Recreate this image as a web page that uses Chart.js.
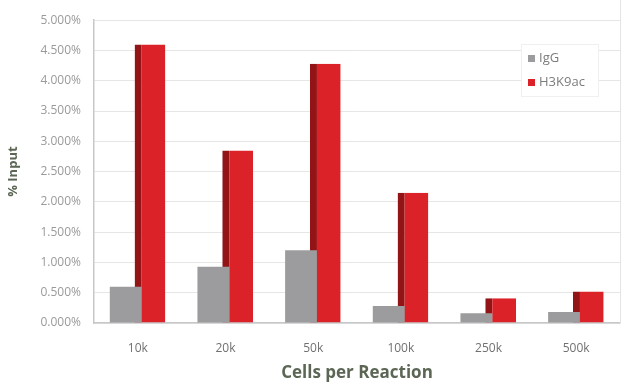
<!DOCTYPE html>
<html>
<head>
<meta charset="utf-8">
<script src="https://cdn.jsdelivr.net/npm/chart.js@4.4.1/dist/chart.umd.min.js"></script>
<style>
  html, body { margin: 0; padding: 0; background: #fff; }
  #wrap { width: 640px; height: 390px; }
</style>
</head>
<body>
<div id="wrap"><canvas id="inputChart"></canvas></div>
<script>
/**************************************************
 * DATA
 **************************************************/
const cellCounts = ["10k", "20k", "50k", "100k", "250k", "500k"];
const iggValues = [0.60, 0.93, 1.20, 0.28, 0.16, 0.18];
const h3k9acValues = [4.60, 2.85, 4.28, 2.15, 0.41, 0.52];
const yTicks = [0, 0.5, 1, 1.5, 2, 2.5, 3, 3.5, 4, 4.5, 5];

/**************************************************
 * LEGEND drawn inside the plot, top right
 **************************************************/
const insideLegend = {
  id: "insideLegend",
  afterDraw(chart) {
    const ctx = chart.ctx;
    const area = chart.chartArea;
    const x = 521, y = 44;
    ctx.save();
    // light frame line on the right side of the plot
    ctx.strokeStyle = "#e4e4e4";
    ctx.lineWidth = 1;
    ctx.beginPath();
    ctx.moveTo(area.right + 0.5, 0);
    ctx.lineTo(area.right + 0.5, area.bottom);
    ctx.stroke();

    ctx.fillStyle = "#ffffff";
    ctx.strokeStyle = "#f0f0f0";
    ctx.fillRect(x, y, 77, 52);
    ctx.strokeRect(x + 0.5, y + 0.5, 77, 52);
    ctx.font = "13px 'Open Sans'";
    ctx.textBaseline = "middle";
    chart.data.datasets.forEach((ds, i) => {
      const ly = y + 14 + i * 24;
      ctx.fillStyle = ds.backgroundColor;
      ctx.fillRect(x + 7, ly - 3, 7, 7);
      ctx.fillStyle = "#7c7c7c";
      ctx.fillText(ds.label, x + 18, ly);
    });
    ctx.restore();
  }
};

/**************************************************
 * CHART
 **************************************************/
new Chart(document.getElementById("inputChart"), {
  type: "bar",
  data: {
    labels: cellCounts,
    datasets: [
      {
        label: "IgG",
        data: iggValues,
        backgroundColor: "#9c9c9e",
        barPercentage: 1.31,
        categoryPercentage: 0.554
      },
      {
        label: "H3K9ac",
        data: h3k9acValues,
        backgroundColor: "#dc2229",
        borderColor: "#921416",
        borderWidth: { left: 7, top: 0, right: 0, bottom: 0 },
        borderSkipped: false,
        barPercentage: 1.265,
        categoryPercentage: 0.554
      }
    ]
  },
  options: {
    responsive: true,
    maintainAspectRatio: false,
    animation: false,
    layout: { padding: { top: 12, right: 20, bottom: 0, left: 0 } },
    plugins: {
      legend: { display: false },
      tooltip: { enabled: false }
    },
    scales: {
      x: {
        afterFit: axis => { axis.height = 67; },
        grid: { display: false, drawTicks: false },
        border: { color: "#c8c8c8", width: 1.5 },
        ticks: {
          color: "#707070",
          font: { family: "'Open Sans'", size: 12 },
          padding: 18
        },
        title: {
          display: true,
          text: "Cells per Reaction",
          color: "#5b6654",
          font: { family: "'Open Sans'", size: 17, weight: "bold" },
          padding: { top: 4, bottom: 7 }
        }
      },
      y: {
        min: 0,
        max: 5,
        afterBuildTicks: axis => {
          axis.ticks = yTicks.map(v => ({ value: v }));
        },
        afterFit: axis => { axis.width = 94; },
        grid: { color: "#e6e6e6", drawTicks: false },
        border: { color: "#c8c8c8", width: 1.5 },
        ticks: {
          color: "#9a9a9a",
          font: { family: "'Open Sans'", size: 12 },
          padding: 13,
          callback: v => v.toFixed(3) + "%"
        },
        title: {
          display: true,
          text: "% Input",
          color: "#5b6654",
          font: { family: "'Open Sans'", size: 13, weight: "bold" },
          padding: { top: 5, bottom: 5 }
        }
      }
    }
  },
  plugins: [insideLegend]
});
</script>
</body>
</html>
